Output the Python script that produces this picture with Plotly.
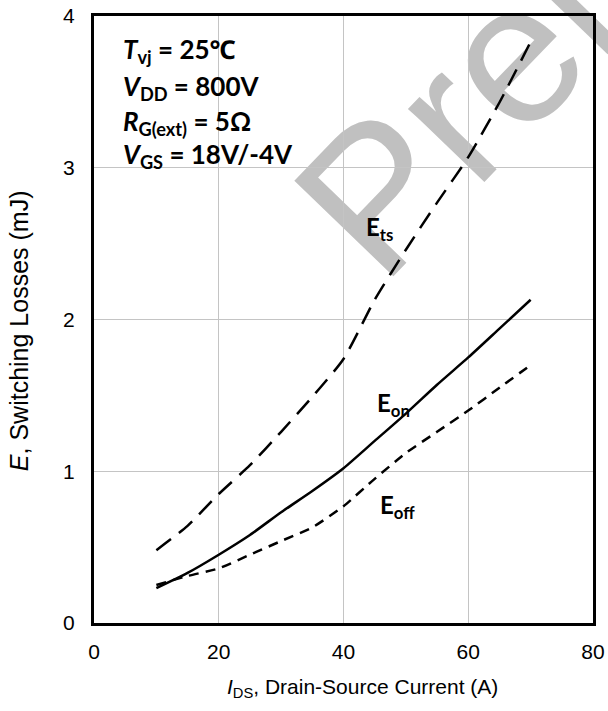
import plotly.graph_objects as go

# Data
ids = [10, 15, 20, 25, 30, 35, 40, 45, 50, 55, 60, 65, 70]
e_on = [0.23, 0.33, 0.45, 0.58, 0.73, 0.87, 1.02, 1.20, 1.38, 1.57, 1.75, 1.94, 2.13]
e_off = [0.25, 0.31, 0.36, 0.45, 0.54, 0.63, 0.77, 0.95, 1.12, 1.26, 1.40, 1.55, 1.70]
e_ts = [0.48, 0.64, 0.85, 1.04, 1.26, 1.49, 1.74, 2.13, 2.46, 2.77, 3.07, 3.43, 3.83]

x_ticks = [0, 20, 40, 60, 80]
y_ticks = [0, 1, 2, 3, 4]

fig = go.Figure()
fig.add_trace(go.Scatter(x=ids, y=e_ts, mode="lines", line=dict(color="black", width=2.5, dash="18px,10px", shape="spline", smoothing=0.6), showlegend=False))
fig.add_trace(go.Scatter(x=ids, y=e_on, mode="lines", line=dict(color="black", width=2.5, shape="spline", smoothing=0.6), showlegend=False))
fig.add_trace(go.Scatter(x=ids, y=e_off, mode="lines", line=dict(color="black", width=2.5, dash="10px,7px", shape="spline", smoothing=0.6), showlegend=False))

# Watermark
fig.add_shape(type="rect", xref="paper", yref="paper", x0=1.096, x1=1.196, y0=1.196, y1=1.296,
              line=dict(width=0), fillcolor="rgba(0,0,0,0)", layer="between",
              label=dict(text="Preliminary", textangle=-46, textposition="middle center",
                         font=dict(family="Liberation Sans, Arial", size=200, color="#c0c0c0")))

cond_font = dict(family="Lato, Noto Sans, sans-serif", size=26, color="black")
cond = [
    ("<b><i>T</i><sub>vj</sub> = 25℃</b>", 3.77),
    ("<b><i>V</i><sub>DD</sub> = 800V</b>", 3.53),
    ("<b><i>R</i><sub>G(ext)</sub> = 5Ω</b>", 3.30),
    ("<b><i>V</i><sub>GS</sub> = 18V/-4V</b>", 3.08),
]
for txt, yy in cond:
    fig.add_annotation(x=4.3, y=yy, xref="x", yref="y", text=txt, showarrow=False,
                       xanchor="left", yanchor="middle", font=cond_font)

lab_font = dict(family="Lato, Noto Sans, sans-serif", size=24, color="black")
for txt, xx, yy in [("<b>E<sub>ts</sub></b>", 43.3, 2.60), ("<b>E<sub>on</sub></b>", 45.0, 1.443), ("<b>E<sub>off</sub></b>", 45.6, 0.765)]:
    fig.add_annotation(x=xx, y=yy, xref="x", yref="y", text=txt, showarrow=False,
                       xanchor="left", yanchor="middle", font=lab_font)

# Axis titles
fig.add_annotation(x=0.539, y=-0.107, xref="paper", yref="paper",
                   text="<i>I</i><sub>DS</sub>, Drain-Source Current (A)", showarrow=False,
                   xanchor="center", yanchor="middle",
                   font=dict(family="Liberation Sans, Arial", size=21, color="black"))
fig.add_annotation(x=-0.150, y=0.481, xref="paper", yref="paper",
                   text="<i>E</i>, Switching Losses (mJ)", showarrow=False, textangle=-90,
                   xanchor="center", yanchor="middle",
                   font=dict(family="Liberation Sans, Arial", size=25, color="black"))

axis_common = dict(showline=True, linecolor="black", linewidth=3, mirror=True,
                   showgrid=True, gridcolor="#c4c4c4", gridwidth=1, zeroline=False,
                   ticks="", automargin=False,
                   tickfont=dict(family="Liberation Sans, Arial", size=21, color="black"))

fig.update_xaxes(range=[0, 80], tickvals=x_ticks, ticktext=[str(v) for v in x_ticks],
                 ticklabelstandoff=8, **axis_common)
fig.update_yaxes(range=[0, 4], tickvals=y_ticks, ticktext=[str(v) for v in y_ticks],
                 ticklabelstandoff=12, **axis_common)

fig.update_layout(width=608, height=711, margin=dict(l=94, r=15, t=16, b=88),
                  plot_bgcolor="white", paper_bgcolor="white")

fig.write_html("out.html")
